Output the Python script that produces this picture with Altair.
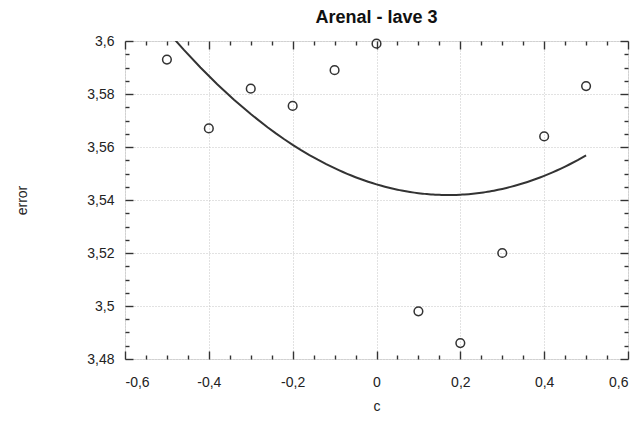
import altair as alt
import pandas as pd

# data
c_values = [-0.5, -0.4, -0.3, -0.2, -0.1, 0.0, 0.1, 0.2, 0.3, 0.4, 0.5]
error_values = [3.593, 3.567, 3.582, 3.5755, 3.589, 3.599, 3.498, 3.486, 3.520, 3.564, 3.583]

x_major = [-0.6, -0.4, -0.2, 0.0, 0.2, 0.4, 0.6]
y_major = [3.48, 3.5, 3.52, 3.54, 3.56, 3.58, 3.6]
x_minor = [round(-0.6 + 0.05 * i, 2) for i in range(25)]
y_minor = [round(3.48 + 0.005 * i, 3) for i in range(25)]

df = pd.DataFrame({"c": c_values, "error": error_values})

W, H = 503, 318
FONT = "Liberation Sans"
INK = "#222222"
GRID = "#c4c4c4"

x_scale = alt.Scale(domain=[-0.6, 0.6], nice=False, zero=False)
y_scale = alt.Scale(domain=[3.48, 3.6], nice=False, zero=False)

label_expr = "replace(toString(datum.value), '.', ',')"

x_main_axis = alt.Axis(orient="bottom", values=x_major, labelExpr=label_expr, ticks=False, tickSize=0,
                       domain=False, grid=True, gridDash=[1, 2], gridColor=GRID, gridWidth=1,
                       labelPadding=16, titlePadding=10, labelFont=FONT, labelFontSize=14,
                       labelColor=INK, titleFont=FONT, titleFontSize=14, titleFontWeight="normal",
                       titleColor=INK, title="c")
y_main_axis = alt.Axis(orient="left", values=y_major, labelExpr=label_expr, ticks=False, tickSize=0,
                       domain=False, grid=True, gridDash=[1, 2], gridColor=GRID, gridWidth=1,
                       labelPadding=11, titlePadding=57, labelFont=FONT, labelFontSize=14,
                       labelColor=INK, titleFont=FONT, titleFontSize=14, titleFontWeight="normal",
                       titleColor=INK, title="error")

x_test = "abs(datum.value * 100 - round(datum.value * 5) * 20) < 0.5"
y_test = "abs(datum.value * 1000 - round(datum.value * 50) * 20) < 0.5"


def tick_axis(orient, values, test, offset):
    return alt.Axis(orient=orient, values=values, labels=False, domain=False, grid=False,
                    title=None, offset=offset, tickColor="#333333", tickWidth=1.4,
                    tickSize={"condition": {"test": test, "value": 8}, "value": 4})


base = alt.Chart(df)

points = base.mark_point(shape="circle", filled=False, size=75, stroke="#333333",
                         strokeWidth=1.5, opacity=1).encode(
    x=alt.X("c:Q", scale=x_scale, axis=x_main_axis),
    y=alt.Y("error:Q", scale=y_scale, axis=y_main_axis),
)

curve = base.transform_regression(
    "c", "error", method="poly", order=2, extent=[-0.5, 0.5]
).mark_line(clip=True, color="#333333", strokeWidth=2).encode(
    x=alt.X("c:Q", scale=x_scale, axis=tick_axis("top", x_minor, x_test, -H)),
    y=alt.Y("error:Q", scale=y_scale, axis=tick_axis("right", y_minor, y_test, -W)),
)

ghost = base.mark_point(opacity=0).encode(
    x=alt.X("c:Q", scale=x_scale, axis=tick_axis("bottom", x_minor, x_test, -H)),
    y=alt.Y("error:Q", scale=y_scale, axis=tick_axis("left", y_minor, y_test, -W)),
)

chart = alt.layer(ghost, curve, points).resolve_axis(
    x="independent", y="independent"
).properties(
    width=W,
    height=H,
    title=alt.TitleParams("Arenal - lave 3", font=FONT, fontSize=18, fontWeight="bold",
                          color="#111111", anchor="middle", offset=7),
    autosize=alt.AutoSizeParams(type="none"),
    padding={"left": 117, "top": 33, "right": 7, "bottom": 53},
).configure_view(
    stroke="#222222", strokeWidth=1.6
).configure(background="white")

chart.save("out.html", embed_options={"renderer": "svg", "actions": False})
